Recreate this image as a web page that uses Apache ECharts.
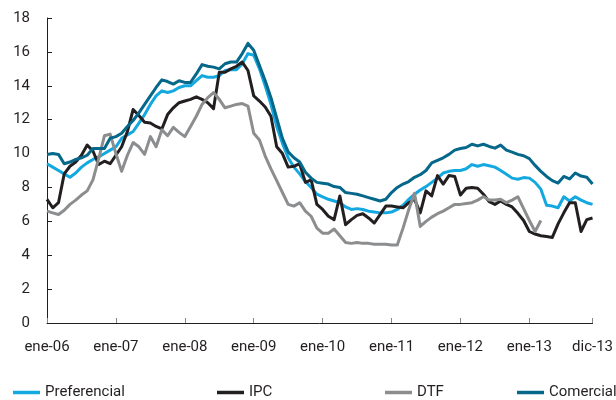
<!DOCTYPE html>
<html>
<head>
<meta charset="utf-8">
<script src="https://cdn.jsdelivr.net/npm/echarts@6/dist/echarts.min.js"></script>
<style>
html,body{margin:0;padding:0;background:#fff;}
#chart{width:616px;height:400px;}
</style>
</head>
<body>
<div id="chart"></div>
<script>
var monthNames = ['ene','feb','mar','abr','may','jun','jul','ago','sep','oct','nov','dic'];
var years = ['06','07','08','09','10','11','12','13'];
var categories = [];
years.forEach(function (y) { monthNames.forEach(function (m) { categories.push(m + '-' + y); }); });

var preferencial = [
  9.4, 9.2, 9.0, 8.8, 8.6, 8.85, 9.2, 9.45, 9.65, 9.8, 10.0, 10.2,
  10.4, 10.9, 11.1, 11.3, 11.8, 12.3, 12.9, 13.4, 13.7, 13.6, 13.7, 13.9,
  14.0, 14.0, 14.3, 14.6, 14.5, 14.5, 14.6, 14.9, 14.95, 14.95, 15.3, 15.9,
  15.8, 15.0, 14.0, 12.9, 11.6, 10.6, 9.75, 9.2, 8.8, 8.35, 8.0, 7.6,
  7.45, 7.3, 7.2, 7.1, 6.85, 6.7, 6.75, 6.7, 6.6, 6.55, 6.5, 6.5,
  6.55, 6.7, 6.95, 7.3, 7.6, 7.85, 8.05, 8.3, 8.55, 8.85, 8.95, 9.0,
  9.0, 9.1, 9.35, 9.25, 9.35, 9.28, 9.2, 9.0, 8.78, 8.55, 8.48, 8.58,
  8.55, 8.3, 7.9, 6.95, 6.9, 6.8, 7.45, 7.2, 7.45, 7.25, 7.1, 7.0
];
var ipc = [
  7.3, 6.8, 7.1, 8.8, 9.25, 9.5, 9.9, 10.5, 10.15, 9.35, 9.55, 9.4,
  9.9, 10.4, 11.3, 12.6, 12.25, 11.85, 11.8, 11.6, 11.45, 12.3, 12.7, 13.0,
  13.1, 13.2, 13.35, 13.2, 13.0, 12.65, 14.8, 14.8, 15.0, 15.15, 15.4, 14.9,
  13.4, 13.1, 12.75, 12.2, 10.4, 10.0, 9.2, 9.25, 9.4, 8.3, 8.45, 7.0,
  6.7, 6.3, 6.1, 7.5, 5.8, 6.1, 6.35, 6.45, 6.2, 5.9, 6.4, 6.9,
  6.9, 6.85, 6.8, 7.1, 7.3, 6.5, 7.8, 7.5, 8.7, 8.2, 8.7, 8.65,
  7.55, 7.95, 8.0, 7.95, 7.6, 7.16, 7.0, 7.2, 7.0, 6.85, 6.47, 6.05,
  5.4, 5.25, 5.15, 5.1, 5.05, 5.85, 6.5, 7.1, 7.1, 5.4, 6.1, 6.2
];
var dtf = [
  6.6, 6.5, 6.4, 6.65, 7.0, 7.25, 7.55, 7.8, 8.45, 9.7, 11.05, 11.15,
  10.0, 8.95, 9.9, 10.65, 10.4, 9.95, 11.0, 10.4, 11.4, 11.05, 11.55, 11.25,
  11.0, 11.6, 12.2, 12.9, 13.3, 13.6, 13.2, 12.7, 12.8, 12.9, 12.95, 12.8,
  11.2, 10.8, 9.85, 9.1, 8.4, 7.7, 7.0, 6.9, 7.1, 6.6, 6.3, 5.6,
  5.3, 5.3, 5.55, 5.15, 4.75, 4.7, 4.75, 4.7, 4.7, 4.65, 4.65, 4.65,
  4.6, 4.6, 5.6, 6.7, 7.65, 5.7, 6.0, 6.25, 6.45, 6.6, 6.8, 7.0,
  7.0, 7.05, 7.1, 7.25, 7.45, 7.26, 7.26, 7.3, 7.1, 7.25, 7.45, 6.75,
  6.05, 5.4, 6.05, null, null, null, null, null, null, null, null, null
];
var comercial = [
  9.95, 10.0, 9.95, 9.4, 9.5, 9.65, 9.75, 9.9, 10.3, 10.3, 10.3, 10.9,
  11.0, 11.2, 11.6, 11.95, 12.4, 12.9, 13.4, 13.9, 14.35, 14.25, 14.1, 14.3,
  14.2, 14.2, 14.7, 15.25, 15.15, 15.1, 15.0, 15.3, 15.4, 15.4, 15.9, 16.5,
  16.1, 15.2, 14.3, 13.3, 12.1, 10.9, 10.1, 9.75, 9.5, 8.9, 8.55, 8.3,
  8.25, 8.2, 8.05, 8.0, 7.7, 7.65, 7.6, 7.5, 7.4, 7.3, 7.2, 7.3,
  7.7, 8.0, 8.2, 8.35, 8.6, 8.75, 9.0, 9.45, 9.6, 9.75, 9.95, 10.2,
  10.3, 10.36, 10.55, 10.45, 10.55, 10.42, 10.32, 10.5, 10.2, 10.08, 9.95, 9.87,
  9.7, 9.3, 8.95, 8.65, 8.4, 8.26, 8.65, 8.5, 8.85, 8.67, 8.6, 8.2
];
var seriesNames = ['Preferencial', 'IPC', 'DTF', 'Comercial'];
var seriesColors = ['#14A8E0', '#231F20', '#8C8D8F', '#05678A'];
var seriesData = [preferencial, ipc, dtf, comercial];
var legendLefts = [8, 212, 380, 512];

var lastIdx = categories.length - 1;
function showTick(i) { return i % 12 === 0 || i === lastIdx; }

var chart = echarts.init(document.getElementById('chart'), null, {renderer: 'canvas'});
var font = 'Roboto, "Liberation Sans", Arial, sans-serif';
chart.setOption({
  animation: false,
  backgroundColor: '#ffffff',
  grid: {left: 47, right: 23, top: 18, bottom: 77, containLabel: false},
  legend: seriesNames.map(function (n, k) {
    return {
      data: [n], left: legendLefts[k], top: 380, icon: 'rect',
      itemWidth: 27, itemHeight: 3.5, itemGap: 0,
      textStyle: {fontFamily: font, fontSize: 15, color: '#231F20'}
    };
  }),
  xAxis: {
    type: 'category', data: categories, boundaryGap: false,
    axisLine: {lineStyle: {color: '#231F20', width: 1}},
    axisTick: {inside: true, length: 5, interval: function (i) { return showTick(i); }, lineStyle: {color: '#888'}},
    axisLabel: {interval: function (i) { return showTick(i); }, margin: 17, fontFamily: font, fontSize: 15, color: '#231F20', showMaxLabel: true},
    splitLine: {show: false}
  },
  yAxis: {
    type: 'value', min: 0, max: 18, interval: 2,
    axisLine: {show: true, lineStyle: {color: '#231F20', width: 1}},
    axisTick: {show: true, inside: true, length: 5, lineStyle: {color: '#231F20'}},
    axisLabel: {margin: 17, fontFamily: font, fontSize: 15, color: '#231F20'},
    splitLine: {show: false}
  },
  series: seriesNames.map(function (n, k) {
    return {
      name: n, type: 'line', data: seriesData[k], symbol: 'none',
      connectNulls: false,
      lineStyle: {color: seriesColors[k], width: 3, join: 'round'},
      itemStyle: {color: seriesColors[k]}
    };
  })
});
</script>
</body>
</html>
